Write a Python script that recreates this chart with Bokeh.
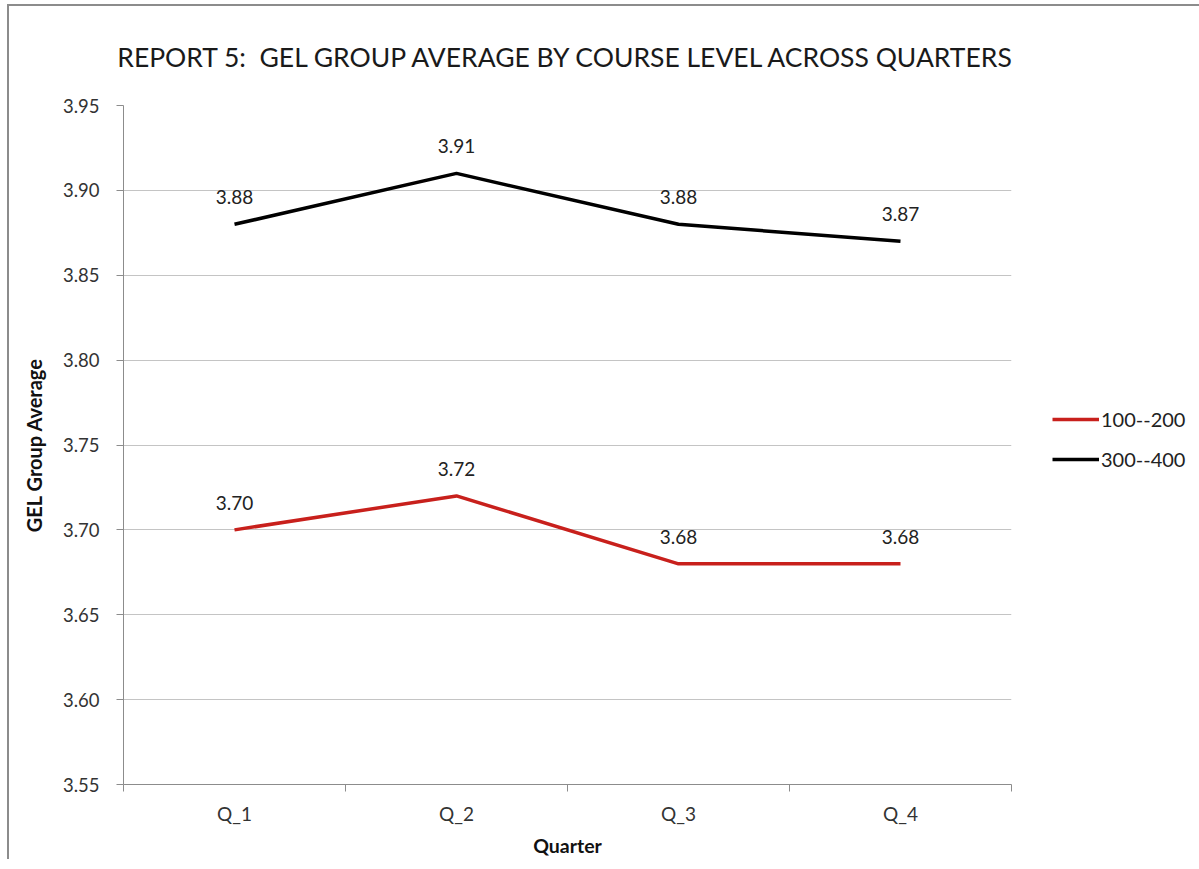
from bokeh.plotting import figure
from bokeh.models import ColumnDataSource, FixedTicker, Legend, LegendItem, NumeralTickFormatter
from bokeh.core.properties import value
from bokeh.embed import file_html
from bokeh.resources import INLINE

quarters = ["Q_1", "Q_2", "Q_3", "Q_4"]
series_names = ["100--200", "300--400"]
values_100_200 = [3.70, 3.72, 3.68, 3.68]
values_300_400 = [3.88, 3.91, 3.88, 3.87]
colors = ["#c8201c", "#000000"]
y_ticks = [3.55, 3.60, 3.65, 3.70, 3.75, 3.80, 3.85, 3.90, 3.95]

FONT = "Lato"
x_pos = list(range(1, len(quarters) + 1))

p = figure(frame_width=888, frame_height=679, output_backend="svg", toolbar_location=None,
           x_range=(0.5, len(quarters) + 0.5), y_range=(y_ticks[0], y_ticks[-1]),
           min_border_left=114, min_border_right=181, min_border_top=99, min_border_bottom=70,
           title="REPORT 5:\u00a0 GEL GROUP AVERAGE BY COURSE LEVEL ACROSS QUARTERS")
p.styles = {"border-left": "2px solid #8c8c8c", "border-top": "2px solid #8c8c8c",
            "margin-left": "7px", "margin-top": "4px"}

p.outline_line_color = None
p.background_fill_color = "white"
p.border_fill_color = "white"

p.title.text_font = FONT
p.title.text_font_size = "26.5px"
p.title.text_font_style = "normal"
p.title.text_color = "#1a1a1a"
p.title.align = "center"
p.title.standoff = 65

# x axis
p.xaxis.ticker = FixedTicker(ticks=x_pos, minor_ticks=[x - 0.5 for x in x_pos] + [x_pos[-1] + 0.5])
p.xaxis.major_label_overrides = {x: q for x, q in zip(x_pos, quarters)}
p.xaxis.major_tick_line_color = None
p.xaxis.minor_tick_line_color = "#8c8c8c"
p.xaxis.minor_tick_out = 7
p.xaxis.minor_tick_in = 0
p.xaxis.axis_line_color = "#8c8c8c"
p.xaxis.major_label_text_font = FONT
p.xaxis.major_label_text_font_size = "19px"
p.xaxis.major_label_text_color = "#333333"
p.xaxis.major_label_standoff = 10
p.xaxis.axis_label = "Quarter"
p.xaxis.axis_label_text_font = FONT
p.xaxis.axis_label_text_font_size = "19.5px"
p.xaxis.axis_label_text_font_style = "bold"
p.xaxis.axis_label_text_color = "#111111"
p.xaxis.axis_label_standoff = 6
p.xgrid.grid_line_color = None

# y axis
p.yaxis.ticker = FixedTicker(ticks=y_ticks)
p.yaxis.formatter = NumeralTickFormatter(format="0.00")
p.yaxis.major_tick_out = 7
p.yaxis.major_tick_in = 0
p.yaxis.minor_tick_line_color = None
p.yaxis.major_tick_line_color = "#8c8c8c"
p.yaxis.axis_line_color = "#8c8c8c"
p.yaxis.major_label_text_font = FONT
p.yaxis.major_label_text_font_size = "18.5px"
p.yaxis.major_label_text_color = "#333333"
p.yaxis.major_label_standoff = 17
p.yaxis.axis_label = "GEL Group Average"
p.yaxis.axis_label_text_font = FONT
p.yaxis.axis_label_text_font_size = "20px"
p.yaxis.axis_label_text_font_style = "bold"
p.yaxis.axis_label_text_color = "#111111"
p.yaxis.axis_label_standoff = 14
p.ygrid.grid_line_color = "#c4c4c4"
p.ygrid.grid_line_width = 1.2

items = []
for name, vals, col in zip(series_names, [values_100_200, values_300_400], colors):
    src = ColumnDataSource(dict(x=x_pos, y=vals, lbl=[f"{v:.2f}" for v in vals]))
    r = p.line("x", "y", source=src, line_color=col, line_width=3.5)
    p.text("x", "y", text="lbl", source=src, text_font=value(FONT), text_font_size="19px",
           text_color="#222222", text_align="center", text_baseline="alphabetic", y_offset=-27)
    items.append(LegendItem(label=name, renderers=[r]))

legend = Legend(items=items, location=(41, 313), label_text_font=FONT, label_text_font_size="20px",
                label_text_color="#222222", glyph_width=47, label_standoff=2, spacing=16,
                border_line_color=None, background_fill_alpha=0)
p.add_layout(legend, "right")

open("out.html", "w").write(file_html(p, INLINE))
